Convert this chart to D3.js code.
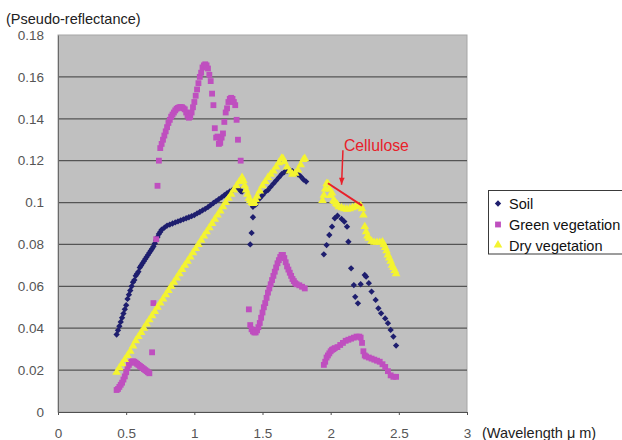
<!DOCTYPE html>
<html>
<head>
<meta charset="utf-8">
<script src="https://cdn.jsdelivr.net/npm/d3@7/dist/d3.min.js"></script>
<style>
  html, body { margin: 0; padding: 0; background: #ffffff; }
  svg { display: block; font-family: "Liberation Sans", Arial, sans-serif; }
</style>
</head>
<body>
<svg id="chart" width="622" height="440"></svg>
<script>
// ---------------- DATA ----------------
const seriesNames = ["Soil", "Green vegetation", "Dry vegetation"];
const xTicks = [0, 0.5, 1, 1.5, 2, 2.5, 3];
const xTickLabels = ["0", "0.5", "1", "1.5", "2", "2.5", "3"];
const yTicks = [0, 0.02, 0.04, 0.06, 0.08, 0.1, 0.12, 0.14, 0.16, 0.18];
const yTickLabels = ["0", "0.02", "0.04", "0.06", "0.08", "0.1", "0.12", "0.14", "0.16", "0.18"];
const yTitle = "(Pseudo-reflectance)";
const xTitle = "(Wavelength \u03bc m)";
const annotationText = "Cellulose";
// [wavelength µm, pseudo-reflectance]
const soil = [
  [0.43,.037],[0.44,.039],[0.45,.041],[0.46,.043],[0.47,.045],[0.48,.047],[0.49,.049],[0.50,.051],
  [0.51,.054],[0.52,.056],[0.53,.058],[0.54,.060],[0.55,.062],[0.56,.063],[0.57,.065],[0.58,.066],
  [0.59,.067],[0.60,.069],[0.61,.070],[0.62,.071],[0.63,.072],[0.64,.073],[0.65,.074],[0.66,.075],
  [0.67,.076],[0.68,.077],[0.69,.078],[0.70,.079],[0.71,.0805],[0.72,.082],[0.73,.0835],[0.74,.085],
  [0.75,.086],[0.76,.087],[0.78,.088],[0.80,.089],[0.82,.0895],[0.84,.090],[0.86,.0905],[0.88,.091],
  [0.90,.0915],[0.92,.092],[0.94,.0925],[0.96,.093],[0.98,.0935],[1.00,.094],[1.02,.0948],[1.04,.0955],
  [1.06,.0963],[1.08,.097],[1.10,.0978],[1.12,.0988],[1.14,.0998],[1.16,.1007],[1.18,.1016],[1.20,.1025],
  [1.22,.1035],[1.24,.1045],[1.26,.1053],[1.28,.106],[1.30,.1065],[1.32,.107],[1.34,.1055],[1.35,.1052],
  [1.41,.080],[1.42,.0855],[1.43,.093],[1.43,.098],
  [1.45,.099],[1.46,.1005],[1.48,.102],[1.50,.1035],[1.52,.105],[1.54,.106],[1.56,.1075],[1.58,.109],
  [1.60,.1105],[1.62,.112],[1.64,.1135],[1.66,.1145],[1.68,.115],[1.70,.1155],[1.72,.115],[1.74,.114],
  [1.76,.1135],[1.78,.1125],[1.80,.111],[1.82,.110],
  [1.95,.0753],[1.97,.0797],[1.99,.0845],[2.01,.0885],[2.03,.0925],[2.05,.0937],[2.08,.0922],[2.10,.0909],
  [2.12,.0885],[2.13,.0813],[2.15,.0686],[2.17,.0606],[2.18,.055],[2.20,.0519],[2.22,.061],[2.25,.0654],
  [2.26,.0646],[2.28,.0615],[2.30,.0575],[2.33,.0535],[2.35,.0495],[2.37,.0471],[2.40,.0447],[2.42,.0424],
  [2.44,.0392],[2.46,.036],[2.48,.0317]
];
const greenVegetation = [
  [0.43,.0105],[0.44,.011],[0.45,.012],[0.46,.013],[0.47,.014],[0.48,.0155],[0.49,.017],[0.50,.019],
  [0.51,.021],[0.52,.0225],[0.53,.0235],[0.54,.024],[0.55,.0242],[0.56,.024],[0.57,.0235],[0.58,.023],
  [0.59,.0225],[0.60,.022],[0.61,.0215],[0.62,.021],[0.63,.0205],[0.64,.020],[0.65,.0195],[0.66,.019],
  [0.67,.0185],[0.69,.0285],[0.70,.052],[0.72,.0825],[0.73,.108],[0.74,.120],[0.75,.126],[0.76,.128],
  [0.77,.130],[0.78,.132],[0.79,.134],[0.80,.136],[0.81,.138],[0.82,.1395],[0.83,.141],[0.84,.142],
  [0.85,.143],[0.86,.144],[0.87,.1448],[0.88,.1452],[0.89,.1455],[0.90,.1456],[0.91,.1455],[0.92,.145],
  [0.93,.1445],[0.94,.143],[0.95,.1415],[0.96,.1405],[0.97,.141],[0.98,.143],[0.99,.1455],[1.00,.148],
  [1.01,.151],[1.02,.154],[1.03,.157],[1.04,.160],[1.05,.162],[1.06,.1645],[1.07,.1655],[1.08,.166],
  [1.09,.1655],[1.10,.164],[1.11,.161],[1.12,.158],[1.13,.152],[1.14,.1465],[1.15,.1355],[1.16,.131],
  [1.17,.1315],[1.18,.128],[1.19,.1285],[1.20,.131],[1.21,.133],[1.22,.1385],[1.23,.143],[1.24,.145],
  [1.25,.148],[1.26,.1495],[1.27,.150],[1.28,.1495],[1.29,.148],[1.30,.1465],[1.31,.1395],[1.32,.130],
  [1.34,.120],
  [1.40,.049],[1.41,.0415],[1.42,.0395],[1.43,.0385],[1.44,.038],[1.45,.038],[1.46,.039],[1.47,.0405],
  [1.48,.0425],[1.49,.045],[1.50,.0475],[1.51,.050],[1.52,.052],[1.53,.0545],[1.54,.057],[1.55,.059],
  [1.56,.061],[1.57,.063],[1.58,.065],[1.59,.067],[1.60,.069],[1.61,.071],[1.62,.0725],[1.63,.074],
  [1.64,.075],[1.65,.075],[1.66,.0735],[1.67,.0715],[1.68,.0695],[1.69,.068],[1.70,.0665],[1.71,.065],
  [1.72,.0635],[1.73,.0625],[1.74,.0615],[1.75,.061],[1.77,.0605],[1.79,.0598],[1.81,.059],
  [1.95,.0225],[1.96,.024],[1.97,.026],[1.98,.027],[1.99,.028],[2.00,.029],[2.01,.0297],[2.02,.030],
  [2.03,.0305],[2.05,.031],[2.07,.032],[2.09,.033],[2.11,.034],[2.13,.0345],[2.15,.035],[2.17,.0355],
  [2.19,.036],[2.21,.036],[2.22,.0355],[2.23,.033],[2.24,.029],[2.25,.027],[2.26,.0265],[2.28,.026],
  [2.30,.0255],[2.32,.025],[2.34,.0245],[2.36,.024],[2.38,.0228],[2.40,.0215],[2.42,.0195],[2.44,.0175],
  [2.46,.0168],[2.48,.0168]
];
const dryVegetation = [
  [0.43,.019],[0.45,.021],[0.47,.023],[0.49,.025],[0.51,.027],[0.53,.029],[0.55,.0315],[0.57,.034],
  [0.59,.036],[0.61,.038],[0.63,.040],[0.65,.042],[0.67,.044],[0.69,.046],[0.71,.048],[0.73,.050],
  [0.75,.052],[0.77,.054],[0.79,.056],[0.81,.058],[0.83,.060],[0.85,.062],[0.87,.064],[0.89,.066],
  [0.91,.068],[0.93,.070],[0.95,.072],[0.97,.074],[0.99,.076],[1.01,.078],[1.03,.080],[1.05,.082],
  [1.07,.084],[1.09,.086],[1.11,.088],[1.13,.090],[1.15,.092],[1.17,.094],[1.19,.096],[1.21,.098],
  [1.23,.100],[1.25,.102],[1.27,.104],[1.29,.106],[1.31,.108],[1.33,.110],[1.35,.112],
  [1.36,.1105],[1.37,.108],[1.38,.106],[1.39,.104],[1.40,.102],[1.41,.101],[1.42,.100],[1.43,.0995],
  [1.44,.100],[1.45,.1015],[1.46,.103],[1.48,.1055],[1.50,.108],[1.52,.110],[1.54,.112],[1.56,.1135],
  [1.58,.115],[1.60,.117],[1.62,.119],[1.64,.121],[1.65,.121],[1.66,.1195],[1.68,.117],[1.70,.115],
  [1.72,.1135],[1.74,.114],[1.76,.1155],[1.78,.118],[1.80,.1205],[1.81,.121],
  [1.94,.101],[1.95,.1035],[1.96,.1065],[1.97,.109],[1.98,.109],[1.99,.1065],[2.00,.1035],[2.00,.1035],
  [2.01,.1045],[2.02,.101],[2.03,.1005],[2.04,.0995],[2.05,.099],[2.06,.098],[2.08,.0975],[2.10,.097],
  [2.12,.0968],[2.14,.097],[2.16,.0975],[2.18,.098],[2.20,.0985],[2.22,.0985],[2.23,.097],[2.24,.094],
  [2.25,.0885],[2.26,.086],[2.27,.084],[2.28,.083],[2.30,.0815],[2.32,.081],[2.34,.081],[2.36,.081],
  [2.38,.0812],[2.39,.080],[2.40,.0785],[2.41,.077],[2.42,.075],[2.43,.0735],[2.44,.072],[2.45,.070],
  [2.46,.069],[2.47,.0675],[2.48,.066]
];
// annotation anchor points in data units
const cellulosePeak = [[1.98, 0.1092], [2.23, 0.0985]];
const celluloseArrow = [[2.09, 0.125], [2.08, 0.1085]];

// ---------------- DRAWING ----------------
const svg = d3.select("#chart");
const margin = { left: 58, right: 155, top: 35, bottom: 28 };
const W = 622, H = 440;
const x = d3.scaleLinear().domain([0, 3]).range([margin.left, W - margin.right]);
const y = d3.scaleLinear().domain([0, 0.18]).range([H - margin.bottom, margin.top]);

const colors = { soil: "#1e1e6e", green: "#bf4fbf", dry: "#f4f430" };

// plot background
svg.append("rect")
  .attr("x", x(0)).attr("y", y(0.18))
  .attr("width", x(3) - x(0)).attr("height", y(0) - y(0.18))
  .attr("fill", "#c0c0c0").attr("stroke", "#a6a6a6").attr("stroke-width", 1);

// gridlines
svg.append("g").selectAll("line")
  .data(yTicks.filter(v => v > 0 && v < 0.18))
  .join("line")
  .attr("x1", x(0)).attr("x2", x(3))
  .attr("y1", d => y(d)).attr("y2", d => y(d))
  .attr("stroke", "#545454").attr("stroke-width", 1.2);

// axes
const xAxis = d3.axisBottom(x).tickValues(xTicks)
  .tickFormat((d, i) => xTickLabels[i]).tickSizeInner(3).tickSizeOuter(0).tickPadding(13);
const gx = svg.append("g").attr("transform", `translate(0,${y(0)})`).call(xAxis);
gx.select(".domain").attr("stroke", "#505050").attr("stroke-width", 1.2);
gx.selectAll(".tick line").attr("stroke", "#505050");
gx.selectAll("text").attr("font-size", "13.5px").attr("fill", "#555")
  .attr("font-family", "'Liberation Sans', Arial, sans-serif");

const yAxis = d3.axisLeft(y).tickValues(yTicks)
  .tickFormat((d, i) => yTickLabels[i]).tickSize(0).tickPadding(14);
const gy = svg.append("g").attr("transform", `translate(${x(0)},0)`).call(yAxis);
gy.select(".domain").attr("stroke", "#6a6a6a").attr("stroke-width", 1);
gy.selectAll("text").attr("font-size", "13.5px").attr("fill", "#555")
  .attr("font-family", "'Liberation Sans', Arial, sans-serif");

// markers
const diamond = d3.symbol().type(d3.symbolSquare).size(20)();
const square = d3.symbol().type(d3.symbolSquare).size(34)();
const triangle = d3.symbol().type(d3.symbolTriangle).size(32)();

svg.append("g").selectAll("path").data(soil).join("path")
  .attr("d", diamond)
  .attr("transform", d => `translate(${x(d[0])},${y(d[1])}) rotate(45)`)
  .attr("fill", colors.soil);

svg.append("g").selectAll("path").data(greenVegetation).join("path")
  .attr("d", square)
  .attr("transform", d => `translate(${x(d[0])},${y(d[1])})`)
  .attr("fill", colors.green);

svg.append("g").selectAll("path").data(dryVegetation).join("path")
  .attr("d", triangle)
  .attr("transform", d => `translate(${x(d[0])},${y(d[1])})`)
  .attr("fill", colors.dry);

// Cellulose annotation
const red = "#e8202a";
svg.append("line")
  .attr("x1", x(cellulosePeak[0][0])).attr("y1", y(cellulosePeak[0][1]))
  .attr("x2", x(cellulosePeak[1][0])).attr("y2", y(cellulosePeak[1][1]))
  .attr("stroke", red).attr("stroke-width", 2);
svg.append("defs").append("marker")
  .attr("id", "arrow").attr("viewBox", "0 0 10 10")
  .attr("refX", 10).attr("refY", 5)
  .attr("markerWidth", 8).attr("markerHeight", 7)
  .attr("markerUnits", "userSpaceOnUse")
  .attr("orient", "auto")
  .append("path").attr("d", "M0,1 L10,5 L0,9 Z").attr("fill", red);
svg.append("line")
  .attr("x1", x(celluloseArrow[0][0])).attr("y1", y(celluloseArrow[0][1]))
  .attr("x2", x(celluloseArrow[1][0])).attr("y2", y(celluloseArrow[1][1]))
  .attr("stroke", red).attr("stroke-width", 1.5)
  .attr("marker-end", "url(#arrow)");
svg.append("text")
  .attr("x", x(celluloseArrow[0][0]) + 1).attr("y", y(celluloseArrow[0][1]) + 1)
  .attr("font-size", "15.8px").attr("fill", red)
  .text(annotationText);

// titles
svg.append("text").attr("x", 6).attr("y", 24)
  .attr("font-size", "14.5px").attr("fill", "#222").text(yTitle);
svg.append("text").attr("x", 482).attr("y", y(0) + 25.5)
  .attr("font-size", "14.5px").attr("fill", "#222").text(xTitle);

// legend
const lg = svg.append("g");
lg.append("rect").attr("x", 488.5).attr("y", 190.5).attr("width", 140).attr("height", 63.5)
  .attr("fill", "#ffffff").attr("stroke", "#3a3a3a").attr("stroke-width", 1);
const legendShapes = [
  { d: diamond, rot: 45, color: colors.soil },
  { d: square, rot: 0, color: colors.green },
  { d: triangle, rot: 0, color: colors.dry }
];
const legendY = [203.5, 224.5, 245];
seriesNames.forEach((name, i) => {
  lg.append("path").attr("d", legendShapes[i].d)
    .attr("transform", `translate(498,${legendY[i]}) rotate(${legendShapes[i].rot})`)
    .attr("fill", legendShapes[i].color);
  lg.append("text").attr("x", 509).attr("y", legendY[i] + 5.5)
    .attr("font-size", "14.5px").attr("fill", "#111").text(name);
});
</script>
</body>
</html>
